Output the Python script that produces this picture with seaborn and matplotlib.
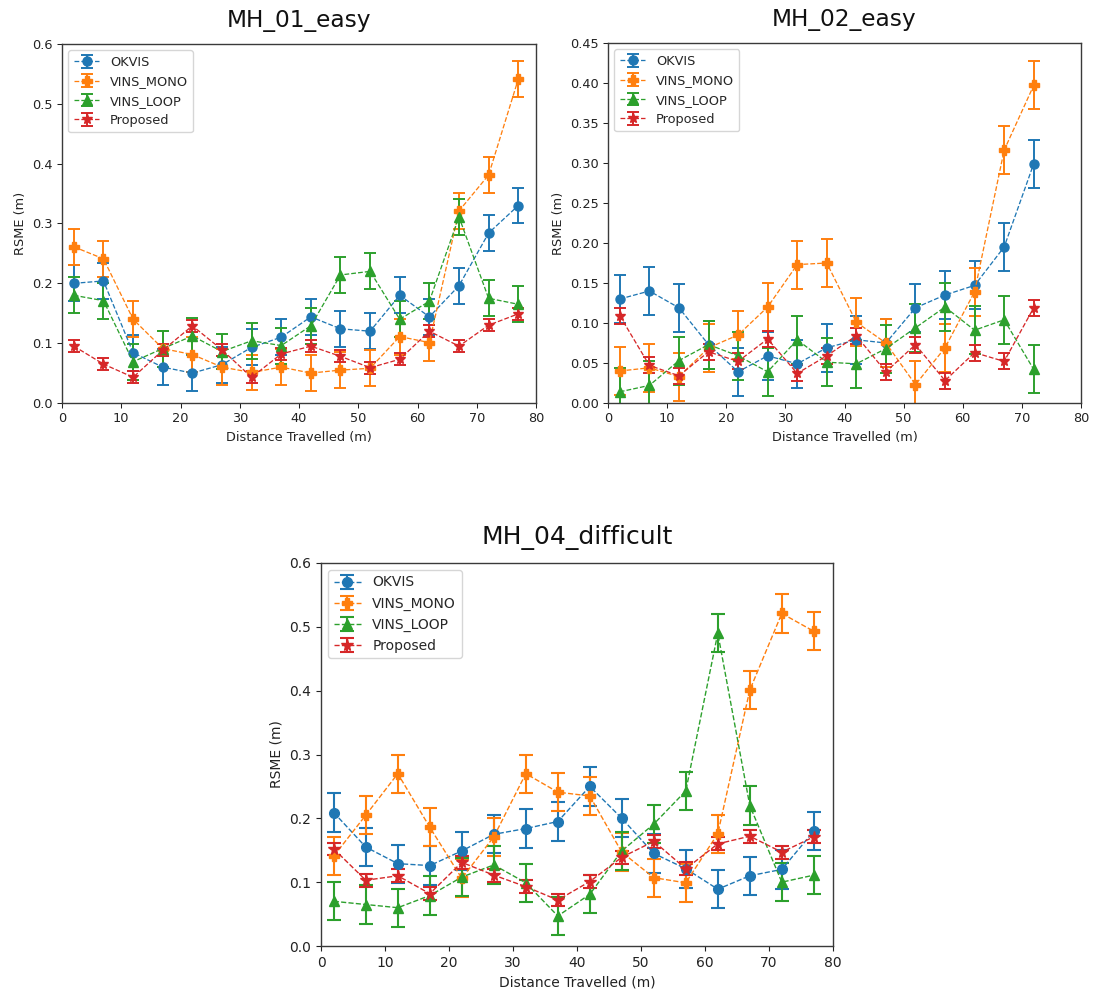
import matplotlib
matplotlib.use("Agg")
import matplotlib.pyplot as plt
import seaborn as sns

sns.set_theme(style="ticks")
plt.rcParams['font.family'] = ['DejaVu Sans']

# ---------------- data ----------------
methods = ["OKVIS", "VINS_MONO", "VINS_LOOP", "Proposed"]
markers = ["o", "P", "^", "*"]
method_err = [0.03, 0.03, 0.03, 0.01]

dist_mh01 = [2, 7, 12, 17, 22, 27, 32, 37, 42, 47, 52, 57, 62, 67, 72, 77]
mh01_okvis = [0.200, 0.204, 0.084, 0.060, 0.050, 0.064, 0.093, 0.110, 0.144, 0.124, 0.120, 0.180, 0.144, 0.196, 0.284, 0.330]
mh01_mono = [0.261, 0.241, 0.140, 0.091, 0.081, 0.060, 0.051, 0.060, 0.050, 0.055, 0.058, 0.111, 0.101, 0.321, 0.381, 0.541]
mh01_loop = [0.180, 0.171, 0.069, 0.091, 0.112, 0.086, 0.104, 0.096, 0.129, 0.214, 0.220, 0.140, 0.170, 0.311, 0.175, 0.165]
mh01_prop = [0.095, 0.065, 0.043, 0.088, 0.129, 0.089, 0.043, 0.082, 0.095, 0.078, 0.059, 0.073, 0.120, 0.095, 0.130, 0.149]

dist_mh02 = [2, 7, 12, 17, 22, 27, 32, 37, 42, 47, 52, 57, 62, 67, 72]
mh02_okvis = [0.130, 0.140, 0.119, 0.073, 0.039, 0.059, 0.049, 0.069, 0.079, 0.075, 0.119, 0.135, 0.147, 0.195, 0.299]
mh02_mono = [0.040, 0.044, 0.033, 0.069, 0.085, 0.120, 0.173, 0.175, 0.101, 0.075, 0.023, 0.069, 0.139, 0.316, 0.397]
mh02_loop = [0.014, 0.022, 0.053, 0.073, 0.059, 0.039, 0.079, 0.051, 0.049, 0.068, 0.094, 0.120, 0.091, 0.104, 0.042]
mh02_prop = [0.109, 0.047, 0.034, 0.064, 0.052, 0.080, 0.037, 0.059, 0.084, 0.039, 0.073, 0.028, 0.063, 0.052, 0.119]

dist_mh04 = [2, 7, 12, 17, 22, 27, 32, 37, 42, 47, 52, 57, 62, 67, 72, 77]
mh04_okvis = [0.209, 0.155, 0.129, 0.126, 0.149, 0.175, 0.184, 0.195, 0.250, 0.200, 0.145, 0.121, 0.089, 0.110, 0.120, 0.180]
mh04_mono = [0.141, 0.205, 0.270, 0.186, 0.106, 0.171, 0.270, 0.241, 0.235, 0.147, 0.107, 0.099, 0.176, 0.401, 0.521, 0.493]
mh04_loop = [0.070, 0.065, 0.060, 0.079, 0.108, 0.127, 0.099, 0.047, 0.081, 0.149, 0.191, 0.243, 0.490, 0.220, 0.100, 0.111]
mh04_prop = [0.152, 0.103, 0.110, 0.082, 0.131, 0.111, 0.093, 0.072, 0.101, 0.139, 0.164, 0.121, 0.160, 0.172, 0.147, 0.171]

titles = ["MH_01_easy", "MH_02_easy", "MH_04_difficult"]
x_label = "Distance Travelled (m)"
y_label = "RSME (m)"
x_ticks = [0, 10, 20, 30, 40, 50, 60, 70, 80]
y_ticks_a = [0.0, 0.1, 0.2, 0.3, 0.4, 0.5, 0.6]
y_ticks_b = [0.00, 0.05, 0.10, 0.15, 0.20, 0.25, 0.30, 0.35, 0.40, 0.45]

palette = sns.color_palette("tab10", 4)

fig = plt.figure(figsize=(11.0, 9.94), dpi=100)
W, H = 1100.0, 994.0


def add_ax(left, top, right, bottom):
    return fig.add_axes([left / W, 1 - bottom / H, (right - left) / W, (bottom - top) / H])


panels = [
    (add_ax(62, 44, 536, 403), dist_mh01, [mh01_okvis, mh01_mono, mh01_loop, mh01_prop], titles[0], y_ticks_a, "%.1f", 0.93, 12),
    (add_ax(608, 43, 1081, 403), dist_mh02, [mh02_okvis, mh02_mono, mh02_loop, mh02_prop], titles[1], y_ticks_b, "%.2f", 0.93, 12),
    (add_ax(321, 563, 833, 946), dist_mh04, [mh04_okvis, mh04_mono, mh04_loop, mh04_prop], titles[2], y_ticks_a, "%.1f", 1.0, 14),
]

for ax, xs, series, title, yt, fmt, s, pad in panels:
    for name, ys, mk, err, col in zip(methods, series, markers, method_err, palette):
        ax.errorbar(xs, ys, yerr=err, fmt="--", marker=mk, color=col,
                    linewidth=1.0 * s, elinewidth=1.5 * s, capsize=5 * s, capthick=1.5 * s,
                    markersize=(8.5 if mk == "*" else 7) * s, label=name)
    ax.set_xlim(0, 80)
    ax.set_ylim(yt[0], yt[-1])
    ax.set_xticks(x_ticks)
    ax.set_yticks(yt)
    ax.set_yticklabels([fmt % v for v in yt])
    ax.tick_params(labelsize=10 * s, length=3.5 * s, width=0.8 * s, colors="#222222")
    ax.set_xlabel(x_label, fontsize=10 * s, color="#222222", labelpad=4 * s)
    ax.set_ylabel(y_label, fontsize=10 * s, color="#222222", labelpad=4 * s)
    ax.set_title(title, fontsize=18 * s, pad=pad, color="#111111")
    for sp in ax.spines.values():
        sp.set_color("#3a3a3a")
        sp.set_linewidth(1.0)
    leg = ax.legend(loc="upper left", fontsize=10 * s, frameon=True, framealpha=0.8,
                    edgecolor="#cccccc", fancybox=True)

fig.savefig("out.png", dpi=100, facecolor="white")
